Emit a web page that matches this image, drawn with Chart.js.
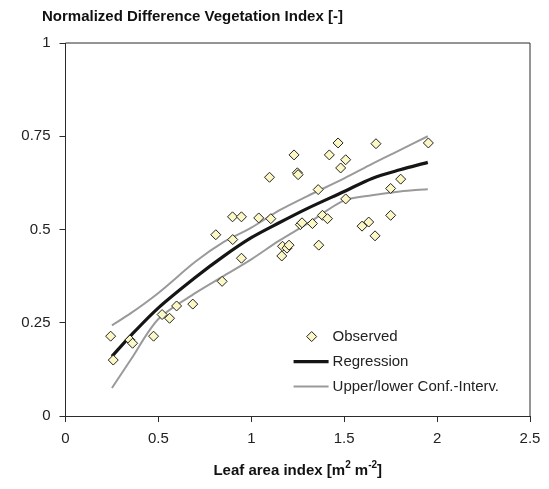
<!DOCTYPE html>
<html>
<head>
<meta charset="utf-8">
<script src="https://cdn.jsdelivr.net/npm/chart.js@4.4.1/dist/chart.umd.min.js"></script>
<style>
  html, body { margin: 0; padding: 0; background: #fff; }
  #wrap { width: 549px; height: 489px; position: relative; }
</style>
</head>
<body>
<div id="wrap"><canvas id="myChart"></canvas></div>
<script>
'use strict';

// observed points (LAI, NDVI)
var obsLai = [0.243, 0.257, 0.347, 0.361, 0.474, 0.52, 0.56, 0.598, 0.685, 0.809,
              0.843, 0.90, 0.899, 0.947, 0.947, 1.04, 1.098, 1.105, 1.164, 1.168,
              1.192, 1.203, 1.23, 1.248, 1.252, 1.264, 1.273, 1.329, 1.36, 1.363,
              1.383, 1.41, 1.42, 1.467, 1.481, 1.508, 1.508, 1.596, 1.632, 1.666,
              1.671, 1.75, 1.75, 1.804, 1.953];
var obsNdvi = [0.214, 0.150, 0.204, 0.195, 0.214, 0.272, 0.262, 0.295, 0.300, 0.486,
               0.361, 0.473, 0.534, 0.534, 0.423, 0.531, 0.640, 0.529, 0.429, 0.455,
               0.450, 0.458, 0.700, 0.652, 0.647, 0.513, 0.518, 0.516, 0.607, 0.458,
               0.538, 0.529, 0.700, 0.732, 0.665, 0.687, 0.582, 0.509, 0.520, 0.483,
               0.730, 0.610, 0.538, 0.635, 0.732];

// regression curve and confidence band
var fitLai    = [0.25, 0.35, 0.5, 0.7, 0.85, 1.0, 1.15, 1.3, 1.5, 1.65, 1.8, 1.95];
var fitNdvi   = [0.16, 0.215, 0.29, 0.372, 0.428, 0.478, 0.518, 0.556, 0.602, 0.637, 0.66, 0.68];
var upperNdvi = [0.243, 0.275, 0.33, 0.414, 0.466, 0.505, 0.551, 0.589, 0.637, 0.676, 0.713, 0.75];
var lowerNdvi = [0.075, 0.15, 0.26, 0.33, 0.375, 0.42, 0.47, 0.515, 0.578, 0.592, 0.602, 0.608];

var xTicks = [0, 0.5, 1, 1.5, 2, 2.5];
var yTicks = [0, 0.25, 0.5, 0.75, 1];
var chartTitle = 'Normalized Difference Vegetation Index [-]';
var legendLabels = ['Observed', 'Regression', 'Upper/lower Conf.-Interv.'];

const FONT = '"Liberation Sans", Arial, sans-serif';
const AXIS_COLOR = '#2b2b2b';
const MARKER_FILL = '#fbf8c6';

function pairs(xs, ys) {
  return xs.map(function (x, i) { return { x: x, y: ys[i] }; });
}

function plainLabel(v) { return String(v); }

// frame, headings and legend are drawn by hand to match the original layout
var decorations = {
  id: 'decorations',
  afterDraw: function (chart) {
    var ctx = chart.ctx;
    var a = chart.chartArea;
    ctx.save();

    // top + right edges of the plot box
    ctx.strokeStyle = AXIS_COLOR;
    ctx.lineWidth = 1;
    ctx.beginPath();
    ctx.moveTo(a.left, a.top);
    ctx.lineTo(a.right, a.top);
    ctx.lineTo(a.right, a.bottom);
    ctx.stroke();

    // chart heading
    ctx.fillStyle = '#111';
    ctx.font = 'bold 15px ' + FONT;
    ctx.textAlign = 'left';
    ctx.textBaseline = 'middle';
    ctx.fillText(chartTitle, 42, 17);

    // x axis title with superscripts
    var parts = [['Leaf area index [m', false], ['2', true], [' m', false], ['-2', true], [']', false]];
    var big = 'bold 15px ' + FONT, small = 'bold 10px ' + FONT;
    var total = 0;
    parts.forEach(function (p) { ctx.font = p[1] ? small : big; total += ctx.measureText(p[0]).width; });
    var x = (a.left + a.right) / 2 - total / 2;
    var y = 471;
    parts.forEach(function (p) {
      ctx.font = p[1] ? small : big;
      ctx.fillText(p[0], x, p[1] ? y - 6 : y);
      x += ctx.measureText(p[0]).width;
    });

    // legend
    var lx = a.left + a.width * 0.491;
    var tx = a.left + a.width * 0.575;
    var ly = a.top + a.height * 0.787;
    var step = 25;
    ctx.font = '15px ' + FONT;

    var cx = a.left + a.width * 0.530, r = 5;
    ctx.beginPath();
    ctx.moveTo(cx, ly - r); ctx.lineTo(cx + r, ly); ctx.lineTo(cx, ly + r); ctx.lineTo(cx - r, ly); ctx.closePath();
    ctx.fillStyle = MARKER_FILL; ctx.fill();
    ctx.strokeStyle = '#222'; ctx.lineWidth = 1; ctx.stroke();
    ctx.fillStyle = '#222';
    ctx.fillText(legendLabels[0], tx, ly);

    ctx.lineWidth = 3.2; ctx.strokeStyle = '#151515';
    ctx.beginPath(); ctx.moveTo(lx, ly + step); ctx.lineTo(tx - 4, ly + step); ctx.stroke();
    ctx.fillText(legendLabels[1], tx, ly + step);

    ctx.lineWidth = 2; ctx.strokeStyle = '#9a9a9a';
    ctx.beginPath(); ctx.moveTo(lx, ly + 2 * step); ctx.lineTo(tx - 4, ly + 2 * step); ctx.stroke();
    ctx.fillText(legendLabels[2], tx, ly + 2 * step);

    ctx.restore();
  }
};

var ctx = document.getElementById('myChart').getContext('2d');
var chart = new Chart(ctx, {
  type: 'scatter',
  data: {
    datasets: [
      {
        label: legendLabels[0],
        data: pairs(obsLai, obsNdvi),
        pointStyle: 'rectRot',
        pointRadius: 5,
        backgroundColor: MARKER_FILL,
        borderColor: '#222',
        borderWidth: 1,
        order: 0
      },
      {
        label: legendLabels[1],
        data: pairs(fitLai, fitNdvi),
        showLine: true,
        borderColor: '#151515',
        borderWidth: 3.2,
        pointRadius: 0,
        tension: 0.3,
        order: 1
      },
      {
        label: legendLabels[2],
        data: pairs(fitLai, upperNdvi),
        showLine: true,
        borderColor: '#9a9a9a',
        borderWidth: 2,
        pointRadius: 0,
        tension: 0.3,
        order: 2
      },
      {
        label: legendLabels[2],
        data: pairs(fitLai, lowerNdvi),
        showLine: true,
        borderColor: '#9a9a9a',
        borderWidth: 2,
        pointRadius: 0,
        tension: 0.3,
        order: 2
      }
    ]
  },
  options: {
    responsive: true,
    maintainAspectRatio: false,
    animation: false,
    layout: { padding: { top: 43, right: 19, bottom: 0, left: 0 } },
    plugins: {
      legend: { display: false },
      tooltip: { enabled: false },
      title: { display: false }
    },
    scales: {
      x: {
        type: 'linear',
        min: 0,
        max: 2.5,
        afterBuildTicks: function (s) { s.ticks = xTicks.map(function (v) { return { value: v }; }); },
        afterFit: function (s) { s.height = 73; },
        grid: { drawOnChartArea: false, tickLength: 6, color: AXIS_COLOR },
        border: { color: AXIS_COLOR, width: 1 },
        ticks: { autoSkip: false, maxRotation: 0, padding: 8, color: '#222', font: { family: FONT, size: 15 }, callback: plainLabel }
      },
      y: {
        type: 'linear',
        min: 0,
        max: 1,
        afterBuildTicks: function (s) { s.ticks = yTicks.map(function (v) { return { value: v }; }); },
        afterFit: function (s) { s.width = 65.5; },
        grid: { drawOnChartArea: false, tickLength: 6, color: AXIS_COLOR },
        border: { color: AXIS_COLOR, width: 1 },
        ticks: { autoSkip: false, padding: 9, color: '#222', font: { family: FONT, size: 15 }, callback: plainLabel }
      }
    }
  },
  plugins: [decorations]
});
</script>
</body>
</html>
